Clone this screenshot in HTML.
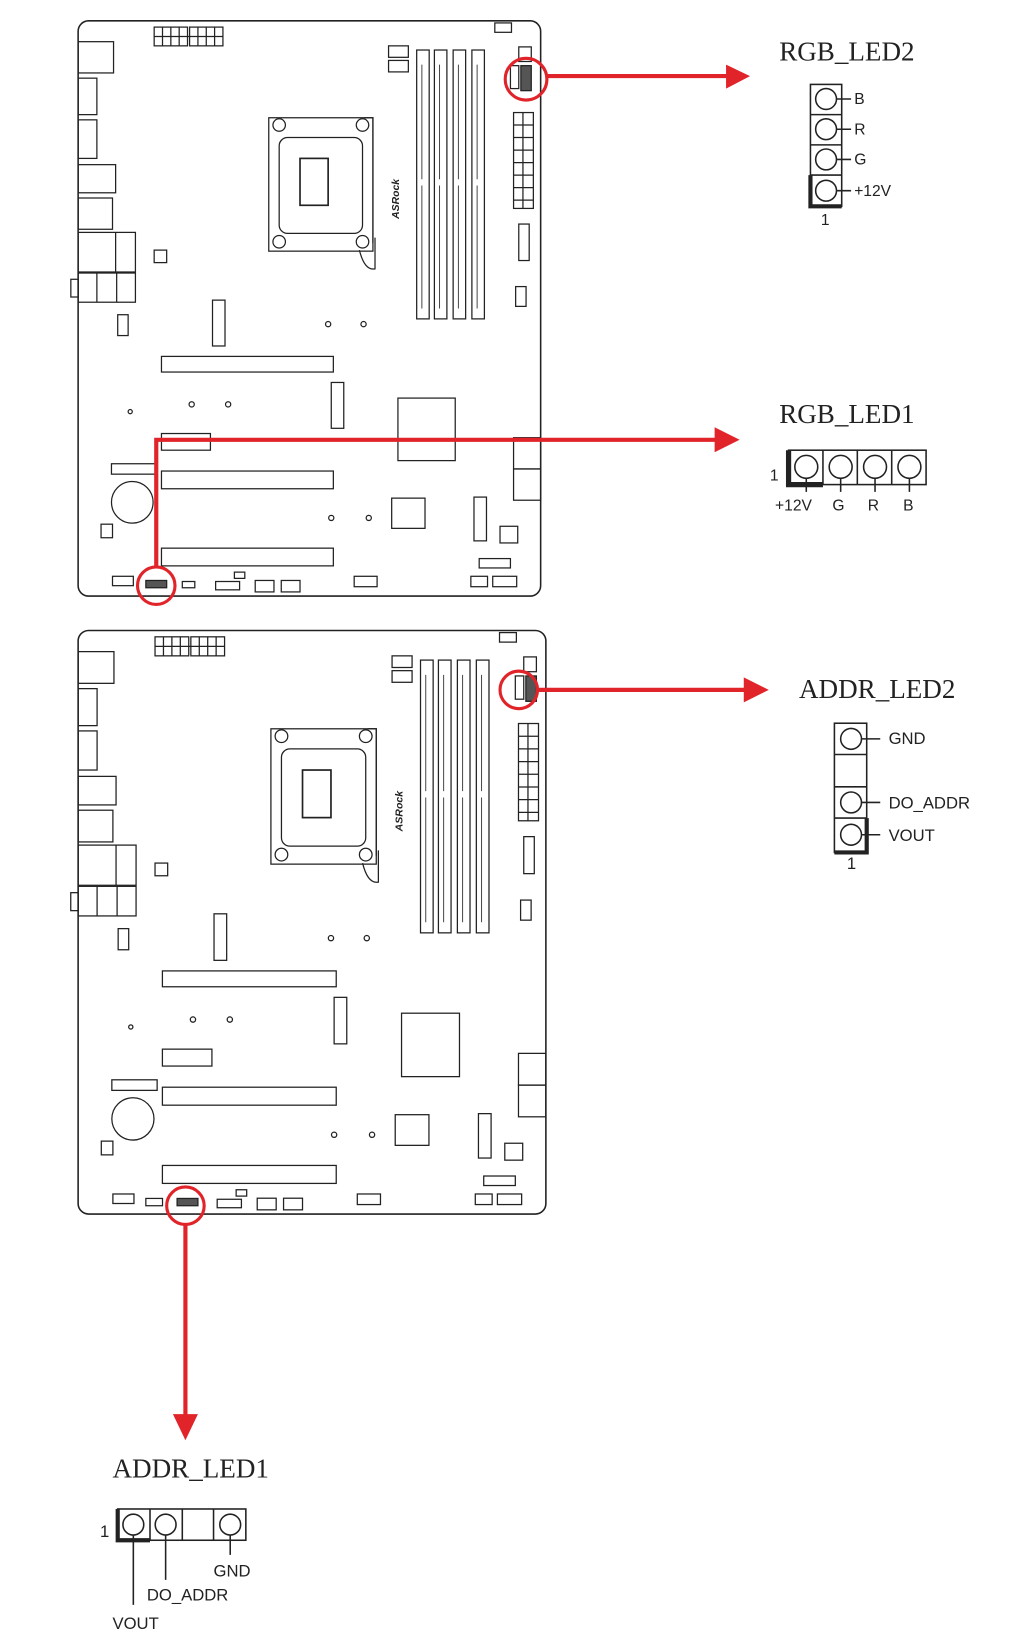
<!DOCTYPE html>
<html><head><meta charset="utf-8"><style>
html,body{margin:0;padding:0;background:#fff;}
svg{display:block;}
.serif{font-family:"Liberation Serif",serif;fill:#222;}
.sans{font-family:"Liberation Sans",sans-serif;fill:#222;}
</style></head><body>
<svg width="1024" height="1633" viewBox="0 0 983 1567" preserveAspectRatio="none" xmlns="http://www.w3.org/2000/svg">
<defs>
<g id="board" fill="none" stroke="#222" stroke-width="1.2">
  <rect x="75" y="20" width="444" height="552" rx="10" stroke-width="1.5"/>
  <rect x="148" y="26" width="32" height="18"/><rect x="182" y="26" width="32" height="18"/>
  <path d="M156 26v18M164 26v18M172 26v18M190 26v18M198 26v18M206 26v18M148 35h66"/>
  <rect x="475" y="22" width="16" height="9"/>
  <rect x="75" y="40" width="34" height="30"/><rect x="75" y="75" width="18" height="35"/>
  <rect x="75" y="115" width="18" height="37"/><rect x="75" y="158" width="36" height="27"/>
  <rect x="75" y="190" width="33" height="30"/><rect x="75" y="223" width="55" height="38"/>
  <path d="M111 223v38"/><rect x="75" y="262" width="55" height="28"/><path d="M93 262v28M112 262v28"/>
  <rect x="68" y="268" width="7" height="17"/>
  <rect x="148" y="240" width="12" height="12"/>
  <rect x="258" y="113" width="100" height="128"/>
  <rect x="268" y="132" width="80" height="92" rx="8"/>
  <rect x="288" y="152" width="27" height="45" stroke-width="1.6"/>
  <path d="M350 113 h8 v120 M345 240 q5 20 15 18 v-30"/>
  <circle cx="268" cy="120" r="6"/><circle cx="348" cy="120" r="6"/><circle cx="268" cy="232" r="6"/><circle cx="348" cy="232" r="6"/>
  <rect x="400" y="48" width="12" height="258"/><rect x="417" y="48" width="12" height="258"/>
  <rect x="435" y="48" width="12" height="258"/><rect x="453" y="48" width="12" height="258"/>
  <path d="M405 62v110M405 178v118M422 62v110M422 178v118M440 62v110M440 178v118M458 62v110M458 178v118" stroke-width="0.8"/>
  <rect x="373" y="44" width="19" height="11"/><rect x="373" y="58" width="19" height="11"/>
  <rect x="498" y="45" width="12" height="14"/>
  <rect x="490" y="63" width="8" height="22"/><rect x="500" y="63" width="10" height="24" fill="#555"/>
  <rect x="493" y="108" width="19" height="92"/><path d="M502 108v92M493 120h19M493 132h19M493 144h19M493 156h19M493 168h19M493 180h19M493 192h19"/>
  <rect x="498" y="215" width="10" height="35"/><rect x="495" y="275" width="10" height="19"/>
  <rect x="113" y="302" width="10" height="20"/>
  <rect x="204" y="288" width="12" height="44"/>
  <circle cx="315" cy="311" r="2.5"/><circle cx="349" cy="311" r="2.5"/><circle cx="184" cy="388" r="2.5"/><circle cx="219" cy="388" r="2.5"/><circle cx="125" cy="395" r="2"/><circle cx="318" cy="497" r="2.5"/><circle cx="354" cy="497" r="2.5"/>
  <rect x="155" y="342" width="165" height="15"/><rect x="318" y="367" width="12" height="44"/>
  <rect x="155" y="416" width="47" height="16"/>
  <rect x="155" y="452" width="165" height="17"/><rect x="155" y="526" width="165" height="17"/>
  <rect x="382" y="382" width="55" height="60"/>
  <rect x="493" y="420" width="26" height="30"/><rect x="493" y="450" width="26" height="30"/>
  <circle cx="127" cy="482" r="20"/><rect x="107" y="445" width="43" height="10"/>
  <rect x="97" y="503" width="11" height="13"/><rect x="376" y="478" width="32" height="29"/>
  <rect x="455" y="477" width="12" height="42"/><rect x="480" y="505" width="17" height="16"/>
  <rect x="460" y="536" width="30" height="9"/>
  <rect x="108" y="553" width="20" height="9"/>
  <rect x="207" y="558" width="23" height="8"/><rect x="225" y="549" width="10" height="6"/>
  <rect x="245" y="557" width="18" height="11"/><rect x="270" y="557" width="18" height="11"/>
  <rect x="340" y="553" width="22" height="10"/><rect x="452" y="553" width="16" height="10"/><rect x="473" y="553" width="23" height="10"/>
  <text x="383" y="210" transform="rotate(-90 383 210)" font-family="Liberation Sans,sans-serif" font-size="10" font-weight="bold" font-style="italic" fill="#222" stroke="none">ASRock</text>
</g>
</defs>
<use href="#board"/>
<g fill="none" stroke="#222" stroke-width="1.2">
  <rect x="140" y="557" width="20" height="7" fill="#555"/><rect x="175" y="558" width="12" height="6"/>
</g>
<g transform="translate(75,605) scale(1.0113,1.0145) translate(-75,-20)"><use href="#board"/></g>
<g fill="none" stroke="#222" stroke-width="1.2">
  <rect x="140" y="1150" width="16" height="7"/>
  <rect x="170" y="1150" width="20" height="7" fill="#555"/>
</g>

<g fill="none" stroke="#e0242a" stroke-width="4">
  <circle cx="505" cy="76" r="20" stroke-width="3"/><path d="M525 73H700"/>
  <circle cx="150" cy="562" r="18" stroke-width="3"/><path d="M150 545V422H690"/>
  <circle cx="498" cy="662" r="18" stroke-width="3"/><path d="M516 662H718"/>
  <circle cx="178" cy="1157" r="18" stroke-width="3"/><path d="M178 1175V1360"/>
</g>
<g fill="#e0242a">
  <path d="M697 62L720 73L697 85Z"/><path d="M686 410L710 422L686 434Z"/>
  <path d="M714 650L738 662L714 674Z"/><path d="M166 1357L178 1382L190 1357Z"/>
</g>

<text class="serif" x="748" y="58" font-size="26">RGB_LED2</text>
<g fill="none" stroke="#222" stroke-width="1.5">
  <rect x="778" y="81" width="30" height="117"/><path d="M778 110h30M778 139h30M778 168h30"/>
  <path d="M778 168v30h30" stroke-width="4"/>
  <circle cx="793" cy="95" r="10"/><circle cx="793" cy="124" r="10"/><circle cx="793" cy="153" r="10"/><circle cx="793" cy="183" r="10"/>
  <path d="M803 95h14M803 124h14M803 153h14M803 183h14"/>
</g>
<g class="sans" font-size="15"><text x="820" y="100">B</text><text x="820" y="129">R</text><text x="820" y="158">G</text><text x="820" y="188">+12V</text><text x="788" y="216">1</text></g>

<text class="serif" x="748" y="406" font-size="26">RGB_LED1</text>
<g fill="none" stroke="#222" stroke-width="1.5">
  <rect x="757" y="432" width="132" height="33"/><path d="M790 432v33M823 432v33M856 432v33"/>
  <path d="M757 432v33h33" stroke-width="5"/>
  <circle cx="774" cy="448" r="11"/><circle cx="807" cy="448" r="11"/><circle cx="840" cy="448" r="11"/><circle cx="873" cy="448" r="11"/>
  <path d="M774 459v13M807 459v13M840 459v13M873 459v13"/>
</g>
<g class="sans" font-size="15"><text x="739" y="461">1</text><text x="744" y="490">+12V</text><text x="799" y="490">G</text><text x="833" y="490">R</text><text x="867" y="490">B</text></g>

<text class="serif" x="767" y="670" font-size="26">ADDR_LED2</text>
<g fill="none" stroke="#222" stroke-width="1.5">
  <rect x="801" y="694" width="31" height="124"/><path d="M801 724h31M801 755h31M801 785h31"/>
  <path d="M801 818h31v-33" stroke-width="4"/>
  <circle cx="817" cy="709" r="10"/><circle cx="817" cy="770" r="10"/><circle cx="817" cy="801" r="10"/>
  <path d="M827 709h18M827 770h18M827 801h18"/>
</g>
<g class="sans" font-size="16"><text x="853" y="714">GND</text><text x="853" y="776">DO_ADDR</text><text x="853" y="807">VOUT</text><text x="813" y="834">1</text></g>

<text class="serif" x="108" y="1418" font-size="26">ADDR_LED1</text>
<g fill="none" stroke="#222" stroke-width="1.5">
  <rect x="113" y="1448" width="123" height="30"/><path d="M144 1448v30M175 1448v30M205 1448v30"/>
  <path d="M113 1448v30h31" stroke-width="4"/>
  <circle cx="128" cy="1463" r="10"/><circle cx="159" cy="1463" r="10"/><circle cx="221" cy="1463" r="10"/>
  <path d="M128 1473v67M159 1473v43M221 1473v19"/>
</g>
<g class="sans" font-size="16"><text x="96" y="1475">1</text><text x="205" y="1513">GND</text><text x="141" y="1536">DO_ADDR</text><text x="108" y="1563">VOUT</text></g>
</svg>
</body></html>
